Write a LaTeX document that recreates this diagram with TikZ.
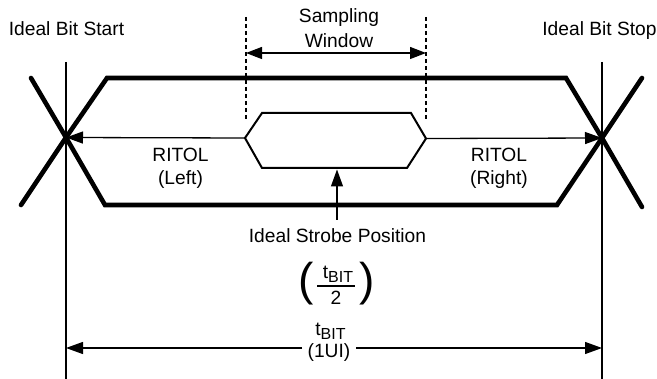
\documentclass[tikz,border=0pt]{standalone}
\usepackage{fontspec}
\setmainfont{Liberation Sans}
\usetikzlibrary{arrows.meta}
\begin{document}
\begin{tikzpicture}[x=1pt,y=-1pt,
  lbl/.style={font=\fontsize{19.2}{22}\selectfont, inner sep=0pt, anchor=base},
  paren/.style={font=\fontsize{46}{46}\selectfont, inner sep=0pt, anchor=base},
  rail/.style={line width=4.6pt, line cap=round, line join=miter},
  hexline/.style={line width=2pt, line join=miter},
  thinline/.style={line width=1.3pt},
  guide/.style={line width=1.2pt},
  dashline/.style={line width=1.3pt, dash pattern=on 4pt off 3pt},
  arr/.style={thinline, -{Triangle[length=17pt,width=12pt]}},
  dblarr/.style={thinline, {Triangle[length=16pt,width=12pt]}-{Triangle[length=16pt,width=12pt]}}
]
\useasboundingbox (0,0) rectangle (657,379);

% key points
\coordinate (XL) at (66,137.5);
\coordinate (XR) at (602,138);
\coordinate (GLt) at (66,62);
\coordinate (GLb) at (66,379);
\coordinate (GRt) at (602,62);
\coordinate (GRb) at (602,379);
\coordinate (HL) at (245,138);
\coordinate (HR) at (426,138.5);
\coordinate (ST) at (337,169.5);
\coordinate (SB) at (337,220);
\coordinate (DLt) at (246,17);
\coordinate (DLb) at (246,120);
\coordinate (DRt) at (426,17);
\coordinate (DRb) at (426,120);
\coordinate (SWL) at (246,53);
\coordinate (SWR) at (426,53);
\coordinate (BL) at (66,348);
\coordinate (BR) at (602,348);
\coordinate (BAl) at (302,348);
\coordinate (BAr) at (356,348);
\coordinate (FBl) at (317,286);
\coordinate (FBr) at (355,286);

% ideal bit guides
\draw[guide] (GLt) -- (GLb);
\draw[guide] (GRt) -- (GRb);

% eye rails
\draw[rail] (21,205) -- (XL) -- (107,78) -- (566,78) -- (XR) -- (642,207);
\draw[rail] (31,78) -- (XL) -- (105,205) -- (557,205) -- (XR) -- (642,78);

% sampling window hexagon
\draw[hexline] (HL) -- (262,113) -- (411,113) -- (HR) -- (407,168) -- (262,168) -- cycle;

% dashed window limits
\draw[dashline] (DLt) -- (DLb);
\draw[dashline] (DRt) -- (DRb);
\draw[dblarr] (SWL) -- (SWR);

% RITOL arrows
\draw[arr] (HL) -- (XL);
\draw[arr] (HR) -- (XR);

% strobe arrow
\draw[arr] (SB) -- (ST);

% bit period arrows
\draw[arr] (BAl) -- (BL);
\draw[arr] (BAr) -- (BR);

% fraction bar
\draw[thinline] (FBl) -- (FBr);

% labels
\node[lbl] (start) at (66.5,36) {Ideal Bit Start};
\node[lbl] (stop) at (599.5,36) {Ideal Bit Stop};
\node[lbl] (samp) at (339,23) {Sampling};
\node[lbl] (win) at (339,48) {Window};
\node[lbl] (rl1) at (180.5,162) {RITOL};
\node[lbl] (rl2) at (180.5,185) {(Left)};
\node[lbl] (rr1) at (499,162) {RITOL};
\node[lbl] (rr2) at (499,185) {(Right)};
\node[lbl] (isp) at (337.5,243) {Ideal Strobe Position};
\node[paren] (lp) at (306.5,295.5) {(};
\node[paren] (rp) at (367,295.5) {)};
\node[lbl] (num) at (338,279) {t\raisebox{-3.5pt}{\fontsize{16}{16}\selectfont BIT}};
\node[lbl] (den) at (336,305) {2};
\node[lbl] (tb) at (330.5,336) {t\raisebox{-3.5pt}{\fontsize{16}{16}\selectfont BIT}};
\node[lbl] (ui) at (329,358) {(1UI)};
\end{tikzpicture}
\end{document}
